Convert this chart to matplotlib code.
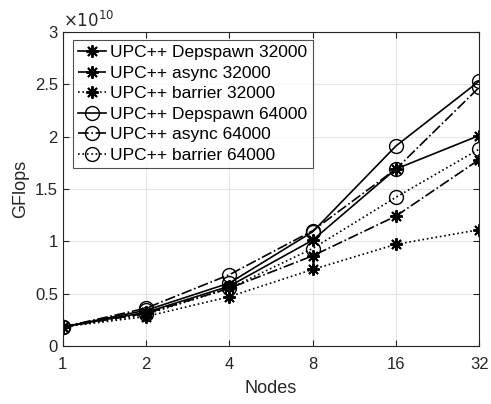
import matplotlib
matplotlib.use('Agg')
import matplotlib.pyplot as plt

plt.rcParams['font.family'] = ['Liberation Sans', 'DejaVu Sans']

nodes = [1, 2, 4, 8, 16, 32]

# GFlops values
dep_32000 = [0.18e10, 0.32e10, 0.57e10, 1.01e10, 1.69e10, 2.01e10]
async_32000 = [0.18e10, 0.31e10, 0.55e10, 0.86e10, 1.24e10, 1.78e10]
barrier_32000 = [0.18e10, 0.28e10, 0.47e10, 0.73e10, 0.97e10, 1.11e10]
dep_64000 = [0.18e10, 0.34e10, 0.60e10, 1.09e10, 1.91e10, 2.53e10]
async_64000 = [0.18e10, 0.36e10, 0.68e10, 1.10e10, 1.69e10, 2.47e10]
barrier_64000 = [0.18e10, 0.30e10, 0.55e10, 0.93e10, 1.42e10, 1.88e10]

series = [
    ('UPC++ Depspawn 32000', dep_32000, '-', '*'),
    ('UPC++ async 32000', async_32000, '-.', '*'),
    ('UPC++ barrier 32000', barrier_32000, ':', '*'),
    ('UPC++ Depspawn 64000', dep_64000, '-', 'o'),
    ('UPC++ async 64000', async_64000, '-.', 'o'),
    ('UPC++ barrier 64000', barrier_64000, ':', 'o'),
]

fig = plt.figure(figsize=(4.91, 4.04), dpi=100)
ax = fig.add_axes([0.128, 0.144, 0.848, 0.777])

for label, vals, ls, mk in series:
    if mk == 'o':
        ax.plot(nodes, vals, linestyle=ls, marker='o', color='black', linewidth=1.2,
                markersize=10, markerfacecolor='none', markeredgewidth=1.0, label=label)
    else:
        # matlab style asterisk
        ax.plot(nodes, vals, linestyle=ls, marker=(8, 2, 0), color='black', linewidth=1.2,
                markersize=9, markeredgewidth=1.4, label=label)

ax.set_xscale('log', base=2)
ax.set_xticks(nodes)
ax.set_xticklabels([str(n) for n in nodes])
ax.minorticks_off()
ax.set_xlim(1, 32)
ax.set_ylim(0, 3e10)
ax.set_yticks([0, 0.5e10, 1e10, 1.5e10, 2e10, 2.5e10, 3e10])
ax.set_yticklabels(['0', '0.5', '1', '1.5', '2', '2.5', '3'])
ax.text(0.0, 1.005, r'$\times 10^{10}$', transform=ax.transAxes, fontsize=12,
        color='#262626', ha='left', va='bottom')

ax.grid(True, color='#e6e6e6', linewidth=0.8)
ax.set_axisbelow(True)
for sp in ax.spines.values():
    sp.set_color('#262626')
    sp.set_linewidth(0.8)
ax.tick_params(direction='in', length=4, colors='#262626', labelsize=12,
               top=True, right=True)
ax.tick_params(axis='x', pad=8)
ax.set_xlabel('Nodes', fontsize=13, color='#262626', labelpad=6)
ax.set_ylabel('GFlops', fontsize=13, color='#262626', labelpad=4)

leg = ax.legend(loc='upper left', bbox_to_anchor=(0.024, 0.975), fontsize=12.5,
                frameon=True, fancybox=False, edgecolor='#262626',
                handlelength=1.6, handletextpad=0.25, labelspacing=0.31,
                borderpad=0.3, borderaxespad=0)
leg.get_frame().set_linewidth(0.8)

fig.savefig('out.png', dpi=100)
